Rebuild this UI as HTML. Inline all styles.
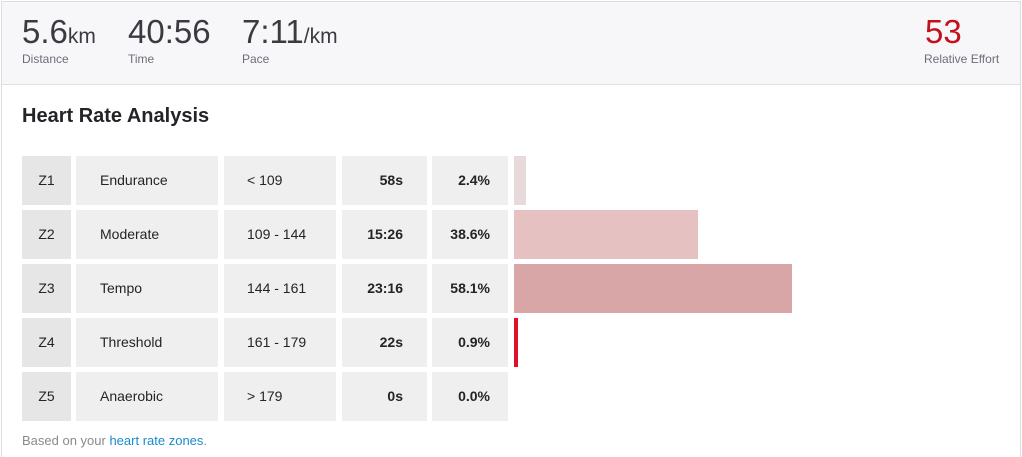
<!DOCTYPE html>
<html style="overflow:hidden;height:457px"><head><style>
body{margin:0;width:1022px;height:457px;background:#fff;font-family:"Liberation Sans",sans-serif;position:relative;overflow:hidden;color:#242428}
.frame{position:absolute;left:1px;top:1px;width:1018px;height:462px;border:1px solid #ddd;}
.hdr{position:absolute;left:2px;top:2px;width:1018px;height:82px;background:#f7f7fa;border-bottom:1px solid #e0e0e3}
.big{position:absolute;top:11px;font-size:33px;font-weight:normal;color:#3a3a40;white-space:nowrap}
.big small{font-size:21px}
.lab{position:absolute;top:50px;font-size:12px;color:#6d6d78}
h2{position:absolute;left:22px;top:105px;margin:0;font-size:20px;font-weight:bold;color:#242428}
.c{position:absolute;background:#efefef;font-size:14px;line-height:49px;height:49px}
.z{background:#e6e6e6;text-align:center}
.b{font-weight:bold;text-align:right}
.bar{position:absolute;left:514px;height:49px}
.foot{position:absolute;left:22px;top:433px;font-size:13px;color:#8a8a8f}
.foot span{color:#1a8bcc}
</style></head><body>
<div class="frame"></div>
<div class="hdr">
<div class="big" style="left:20px">5.6<small>km</small></div>
<div class="lab" style="left:20px">Distance</div>
<div class="big" style="left:126px">40:56</div>
<div class="lab" style="left:126px">Time</div>
<div class="big" style="left:240px">7:11<small>/km</small></div>
<div class="lab" style="left:240px">Pace</div>
<div class="big" style="left:923px;color:#c4101c">53</div>
<div class="lab" style="left:922px">Relative Effort</div>
</div>
<h2>Heart Rate Analysis</h2>

<div class="c z" style="left:22px;top:156px;width:49px">Z1</div>
<div class="c" style="left:76px;top:156px;width:118px;padding-left:24px">Endurance</div>
<div class="c" style="left:224px;top:156px;width:89px;padding-left:23px">&lt; 109</div>
<div class="c b" style="left:342px;top:156px;width:61px;padding-right:24px">58s</div>
<div class="c b" style="left:432px;top:156px;width:58px;padding-right:18px">2.4%</div>
<div class="bar" style="top:156px;width:12px;background:#e8d9db"></div>

<div class="c z" style="left:22px;top:210px;width:49px">Z2</div>
<div class="c" style="left:76px;top:210px;width:118px;padding-left:24px">Moderate</div>
<div class="c" style="left:224px;top:210px;width:89px;padding-left:23px">109 - 144</div>
<div class="c b" style="left:342px;top:210px;width:61px;padding-right:24px">15:26</div>
<div class="c b" style="left:432px;top:210px;width:58px;padding-right:18px">38.6%</div>
<div class="bar" style="top:210px;width:184px;background:#e5c1c1"></div>

<div class="c z" style="left:22px;top:264px;width:49px">Z3</div>
<div class="c" style="left:76px;top:264px;width:118px;padding-left:24px">Tempo</div>
<div class="c" style="left:224px;top:264px;width:89px;padding-left:23px">144 - 161</div>
<div class="c b" style="left:342px;top:264px;width:61px;padding-right:24px">23:16</div>
<div class="c b" style="left:432px;top:264px;width:58px;padding-right:18px">58.1%</div>
<div class="bar" style="top:264px;width:278px;background:#d9a6a7"></div>

<div class="c z" style="left:22px;top:318px;width:49px">Z4</div>
<div class="c" style="left:76px;top:318px;width:118px;padding-left:24px">Threshold</div>
<div class="c" style="left:224px;top:318px;width:89px;padding-left:23px">161 - 179</div>
<div class="c b" style="left:342px;top:318px;width:61px;padding-right:24px">22s</div>
<div class="c b" style="left:432px;top:318px;width:58px;padding-right:18px">0.9%</div>
<div class="bar" style="top:318px;width:4px;background:#e0102a"></div>

<div class="c z" style="left:22px;top:372px;width:49px">Z5</div>
<div class="c" style="left:76px;top:372px;width:118px;padding-left:24px">Anaerobic</div>
<div class="c" style="left:224px;top:372px;width:89px;padding-left:23px">&gt; 179</div>
<div class="c b" style="left:342px;top:372px;width:61px;padding-right:24px">0s</div>
<div class="c b" style="left:432px;top:372px;width:58px;padding-right:18px">0.0%</div>

<div class="foot">Based on your <span>heart rate zones</span>.</div>
</body></html>
